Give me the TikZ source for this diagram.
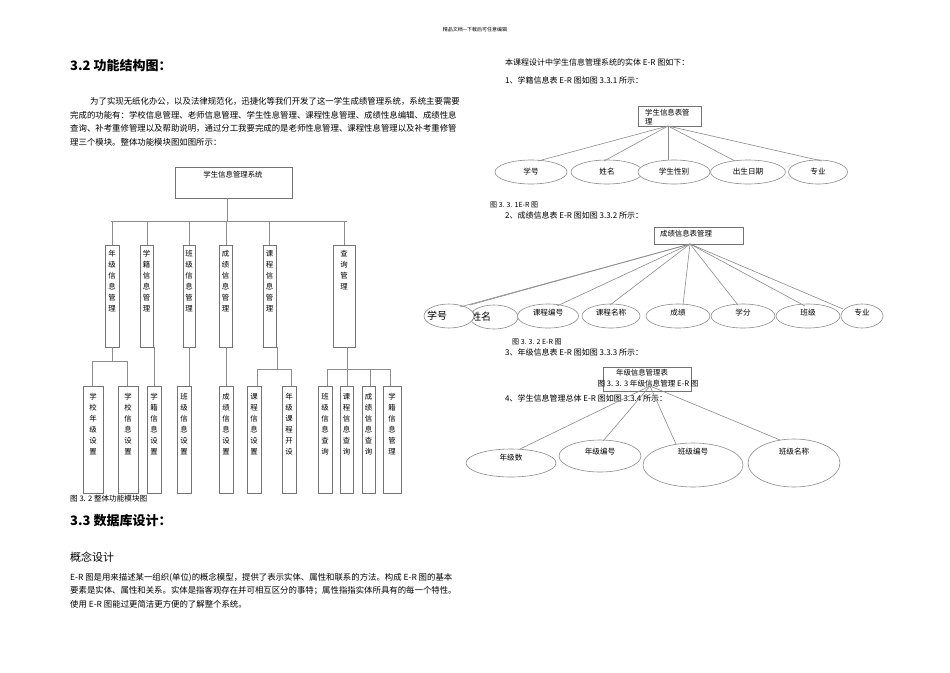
\documentclass[tikz,border=0pt]{standalone}
\usepackage{fontspec}
\setmainfont{Noto Sans CJK SC}
\usetikzlibrary{shapes.geometric}
\begin{document}
\begin{tikzpicture}[x=1pt,y=-1pt,
  ln/.style={draw=black!45,line width=0.6pt},
  bx/.style={draw=black!55,line width=0.6pt},
  tx/.style={anchor=west,inner sep=0pt,font=\fontsize{8.4}{10}\selectfont},
  vt/.style={anchor=north,inner sep=0pt,align=center,font=\fontsize{7.4}{11}\selectfont},
  el/.style={draw=black!45,line width=0.6pt,fill=white,ellipse,inner sep=0pt},
  et/.style={inner sep=0pt,font=\fontsize{7.6}{9}\selectfont},
  hd/.style={anchor=west,inner sep=0pt,font=\fontsize{13}{15}\selectfont\bfseries}]
\useasboundingbox (0,0) rectangle (950,672);
\fill[white] (0,0) rectangle (950,672);
\node[inner sep=0pt,font=\fontsize{5}{6}\selectfont] (hdr) at (475,30) {精品文档---下载后可任意编辑};
% ---------- left top text
\node[hd] (h32) at (70,66) {3.2 功能结构图：};
\node[tx] (p1) at (90,101) {为了实现无纸化办公，以及法律规范化，迅捷化等我们开发了这一学生成绩管理系统，系统主要需要};
\node[tx] (p2) at (70,115) {完成的功能有：学校信息管理、老师信息管理、学生性息管理、课程性息管理、成绩性息编辑、成绩性息};
\node[tx] (p3) at (70,128) {查询、补考重修管理以及帮助说明，通过分工我要完成的是老师性息管理、课程性息管理以及补考重修管};
\node[tx] (p4) at (70,142) {理三个模块。整体功能模块图如图所示：};
% ---------- function structure
\draw[bx] (175,167) rectangle (292,198);
\node[inner sep=0pt,font=\fontsize{7.4}{9}\selectfont] (root) at (233,175) {学生信息管理系统};
\coordinate (rb) at (227,198);
\draw[ln] (rb) -- (227,221);
\draw[ln] (111,221) -- (347,221);
\foreach \x/\a/\b in {112/105/119,147/140/153,189/183/195,226/219/232,269/263/276,344/333/355}{
  \draw[ln] (\x,221) -- (\x,245);
  \draw[bx] (\a,245) rectangle (\b,347);}
\node[vt] (n1) at (112,250) {年\\级\\信\\息\\管\\理};
\node[vt] (n2) at (146.5,250) {学\\籍\\信\\息\\管\\理};
\node[vt] (n3) at (189,250) {班\\级\\信\\息\\管\\理};
\node[vt] (n4) at (225.5,250) {成\\绩\\信\\息\\管\\理};
\node[vt] (n5) at (269.5,250) {课\\程\\信\\息\\管\\理};
\node[vt] (n6) at (344,250) {查\\询\\管\\理};
% level 3
\foreach \a/\b in {83/103,118/138,147/161,177/191,219/233,247/261,282/296,318/332,340/353,362/375,383/401}{
  \draw[bx] (\a,386) rectangle (\b,493);}
\draw[ln] (112,347) -- (112,361); \draw[ln] (92,361) -- (127,361);
\draw[ln] (92,361) -- (92,386); \draw[ln] (127,361) -- (127,386);
\draw[ln] (154,347) -- (154,386);
\draw[ln] (189,347) -- (189,386);
\draw[ln] (226,347) -- (226,386);
\draw[ln] (277,347) -- (277,369); \draw[ln] (257,369) -- (291,369);
\draw[ln] (257,369) -- (257,386); \draw[ln] (291,369) -- (291,386);
\draw[ln] (347,347) -- (347,386); \draw[ln] (327,369) -- (390,369);
\foreach \x in {327,370,390}{\draw[ln] (\x,369) -- (\x,386);}
\node[vt] (m1) at (93,393) {学\\校\\年\\级\\设\\置};
\node[vt] (m2) at (128,393) {学\\校\\信\\息\\设\\置};
\node[vt] (m3) at (154,393) {学\\籍\\信\\息\\设\\置};
\node[vt] (m4) at (184,393) {班\\级\\信\\息\\设\\置};
\node[vt] (m5) at (226,393) {成\\绩\\信\\息\\设\\置};
\node[vt] (m6) at (254,393) {课\\程\\信\\息\\设\\置};
\node[vt] (m7) at (289,393) {年\\级\\课\\程\\开\\设};
\node[vt] (m8) at (325,393) {班\\级\\信\\息\\查\\询};
\node[vt] (m9) at (346.5,393) {课\\程\\信\\息\\查\\询};
\node[vt] (m10) at (368.5,393) {成\\绩\\信\\息\\查\\询};
\node[vt] (m11) at (392,393) {学\\籍\\信\\息\\管\\理};
\node[tx,font=\fontsize{7.6}{9}\selectfont] (cap32) at (70,499) {图 3. 2 整体功能模块图};
% ---------- left bottom
\node[hd] (h33) at (70,521) {3.3 数据库设计：};
\node[tx,font=\fontsize{11}{13}\selectfont] (gn) at (70,557) {概念设计};
\node[tx] (q1) at (70,578) {E-R 图是用来描述某一组织(单位)的概念模型，提供了表示实体、属性和联系的方法。构成 E-R 图的基本};
\node[tx] (q2) at (70,591) {要素是实体、属性和关系。实体是指客观存在并可相互区分的事特；属性指指实体所具有的每一个特性。};
\node[tx] (q3) at (70,604) {使用 E-R 图能过更简洁更方便的了解整个系统。};
% ---------- right: E-R 1
\node[tx,font=\fontsize{8}{10}\selectfont] (r0) at (505,62) {本课程设计中学生信息管理系统的实体 E-R 图如下：};
\node[tx,font=\fontsize{8}{10}\selectfont] (r1) at (505,80) {1、学籍信息表 E-R 图如图 3.3.1 所示：};
\draw[bx] (638,106) rectangle (701,126);
\node[anchor=north west,inner sep=0pt,align=left,font=\fontsize{7.4}{9}\selectfont] (e1) at (645,109) {学生信息表管\\理};
\coordinate (c1) at (668,126);
\node[el,minimum width=72,minimum height=24] (a1) at (531,172) {};
\node[el,minimum width=72,minimum height=24] (a2) at (607,172) {};
\node[el,minimum width=72,minimum height=24] (a3) at (674,172) {};
\node[el,minimum width=75,minimum height=24] (a4) at (748,172) {};
\node[el,minimum width=59,minimum height=24] (a5) at (818,172) {};
\draw[ln] (c1) -- (538,161); \draw[ln] (c1) -- (604,161); \draw[ln] (c1) -- (668,160);
\draw[ln] (c1) -- (735,161); \draw[ln] (c1) -- (822,161);
\node[et] at (a1) {学号}; \node[et] at (a2) {姓名}; \node[et] at (a3) {学生性别};
\node[et] at (a4) {出生日期}; \node[et] at (a5) {专业};
\node[tx,font=\fontsize{7}{9}\selectfont] (cap331) at (490,205) {图 3. 3. 1E-R 图};
% ---------- E-R 2
\node[tx,font=\fontsize{8}{10}\selectfont] (r2) at (505,215) {2、成绩信息表 E-R 图如图 3.3.2 所示：};
\draw[bx] (654,227) rectangle (743,244);
\node[inner sep=0pt,font=\fontsize{7.4}{9}\selectfont] (e2) at (686,234) {成绩信息表管理};
\coordinate (c2) at (690,244);
\node[el,minimum width=48,minimum height=24] (b2) at (494,317) {};
\node[inner sep=0pt,font=\fontsize{10}{12}\selectfont] (t2) at (481,317) {姓名};
\draw[ln] (c2) -- (470,305);
\node[el,minimum width=50,minimum height=24] (b1) at (449,316) {};
\node[inner sep=0pt,font=\fontsize{10}{12}\selectfont] (t1) at (437,316) {学号};
\node[el,minimum width=61,minimum height=24] (b3) at (548,316) {};
\node[el,minimum width=58,minimum height=24] (b4) at (611,316) {};
\node[el,minimum width=64,minimum height=24] (b5) at (678,316) {};
\node[el,minimum width=64,minimum height=24] (b6) at (743,316) {};
\node[el,minimum width=64,minimum height=24] (b7) at (808,316) {};
\node[el,minimum width=42,minimum height=24] (b8) at (862,316) {};
\draw[ln] (c2) -- (460,307); \draw[ln] (c2) -- (557,306); \draw[ln] (c2) -- (610,305);
\draw[ln] (c2) -- (683,305); \draw[ln] (c2) -- (738,305); \draw[ln] (c2) -- (805,306);
\draw[ln] (c2) -- (843,309);
\node[et] at (548,313) {课程编号}; \node[et] at (611,313) {课程名称}; \node[et] at (678,313) {成绩};
\node[et] at (743,313) {学分}; \node[et] at (808,313) {班级}; \node[et] at (862,313) {专业};
\node[tx,font=\fontsize{7}{9}\selectfont] (cap332) at (512,342) {图 3. 3. 2 E-R 图};
% ---------- E-R 3
\node[tx,font=\fontsize{8}{10}\selectfont] (r3) at (505,352) {3、年级信息表 E-R 图如图 3.3.3 所示：};
\draw[bx] (603,367) rectangle (691,391);
\node[inner sep=0pt,font=\fontsize{7.4}{9}\selectfont] (e3) at (642,373) {年级信息管理表};
\node[inner sep=0pt,font=\fontsize{7.6}{9}\selectfont] (cap333) at (648,384) {图 3. 3. 3 年级信息管理 E-R 图};
\node[tx,font=\fontsize{8}{10}\selectfont] (r4) at (505,398) {4、学生信息管理总体 E-R 图如图 3.3.4 所示：};
\coordinate (c3) at (650,386);
\node[el,minimum width=90,minimum height=28,fill=none] (d1) at (511,463) {};
\node[el,minimum width=82,minimum height=32,fill=none] (d2) at (600,456) {};
\node[el,minimum width=100,minimum height=44,fill=none] (d3) at (693,465) {};
\node[el,minimum width=92,minimum height=48,fill=none] (d4) at (794,463) {};
\draw[ln] (c3) -- (520,449); \draw[ln] (c3) -- (603,441);
\draw[ln] (c3) -- (676,444); \draw[ln] (c3) -- (780,440);
\node[et] at (511,458) {年级数}; \node[et] at (600,452) {年级编号};
\node[et] at (693,452) {班级编号}; \node[et] at (794,452) {班级名称};
\end{tikzpicture}
\end{document}
